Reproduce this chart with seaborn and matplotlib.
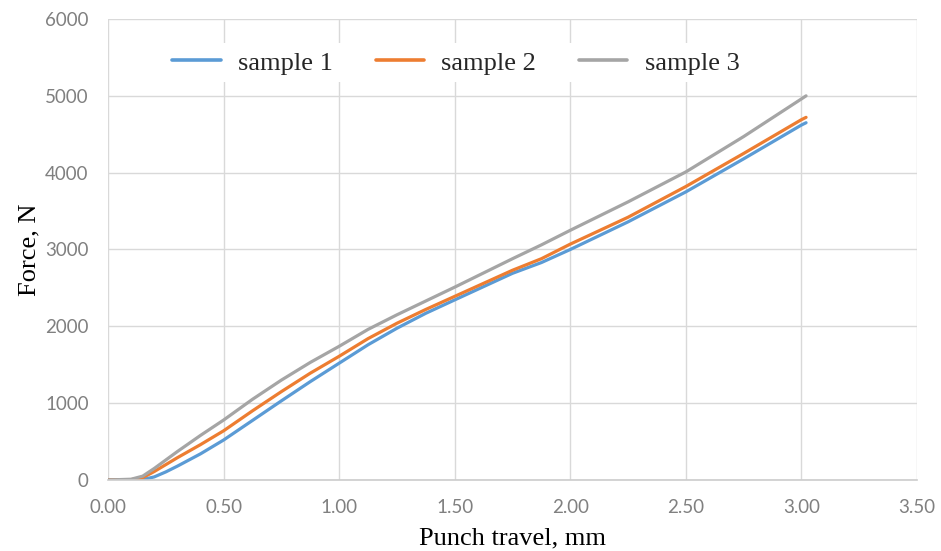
import pandas as pd
import matplotlib
matplotlib.use("Agg")
import matplotlib.pyplot as plt
import seaborn as sns

# Data
travel = [0, 0.1, 0.15, 0.2, 0.25, 0.3, 0.4, 0.5, 0.625, 0.75, 0.875, 1.0, 1.125,
          1.25, 1.375, 1.5, 1.75, 1.875, 2.0, 2.25, 2.5, 2.75, 3.0, 3.02]
sample1 = [0, 0, 5, 40, 105, 180, 340, 520, 775, 1030, 1280, 1520, 1760,
           1975, 2170, 2344, 2690, 2830, 3000, 3360, 3750, 4180, 4620, 4650]
sample2 = [0, 5, 30, 110, 200, 290, 460, 640, 900, 1150, 1390, 1610, 1840,
           2040, 2220, 2390, 2730, 2880, 3070, 3420, 3820, 4250, 4690, 4720]
sample3 = [0, 10, 50, 150, 260, 370, 580, 780, 1050, 1300, 1530, 1740, 1960,
           2150, 2330, 2510, 2880, 3060, 3250, 3620, 4010, 4470, 4960, 5000]
names = ["sample 1", "sample 2", "sample 3"]
colors = ["#5B9BD5", "#ED7D31", "#A5A5A5"]
x_ticks = [0, 0.5, 1.0, 1.5, 2.0, 2.5, 3.0, 3.5]
y_ticks = [0, 1000, 2000, 3000, 4000, 5000, 6000]

df = pd.DataFrame({
    "travel": travel * 3,
    "force": sample1 + sample2 + sample3,
    "sample": [n for n in names for _ in travel],
})

sns.set_theme(style="whitegrid")
plt.rcParams["font.family"] = ["Liberation Serif", "DejaVu Serif"]

fig = plt.figure(figsize=(9.41, 5.51), dpi=100)
ax = fig.add_axes([0.1148, 0.1289, 0.8597, 0.8366])

sns.lineplot(data=df, x="travel", y="force", hue="sample", palette=colors,
             linewidth=2.3, ax=ax, legend=True)

ax.set_xlim(0, 3.5)
ax.set_ylim(0, 6000)
ax.set_xticks(x_ticks)
ax.set_yticks(y_ticks)
ax.set_xticklabels([f"{t:.2f}" for t in x_ticks])
ax.set_yticklabels([str(t) for t in y_ticks])
for lab in ax.get_xticklabels() + ax.get_yticklabels():
    lab.set_family("Lato")
    lab.set_fontsize(13.5)
    lab.set_color("#808080")
ax.tick_params(length=0, pad=14)

ax.grid(True, color="#d9d9d9", linewidth=1.0)
for side in ["left", "right", "top"]:
    ax.spines[side].set_visible(False)
ax.spines["bottom"].set_color("#cccccc")
ax.spines["bottom"].set_linewidth(1.2)

ax.set_xlabel("Punch travel, mm", fontsize=19, color="black", labelpad=8)
ax.set_ylabel("Force, N", fontsize=19, color="black", labelpad=3)

leg = ax.legend(loc="center", bbox_to_anchor=(0.43, 0.905), ncol=3,
                fontsize=19, frameon=True, facecolor="white", edgecolor="none",
                framealpha=1, handlelength=1.85, handletextpad=0.65,
                columnspacing=1.6, borderpad=0.3)
for line in leg.get_lines():
    line.set_linewidth(2.6)

fig.savefig("out.png", dpi=100, facecolor="white")
